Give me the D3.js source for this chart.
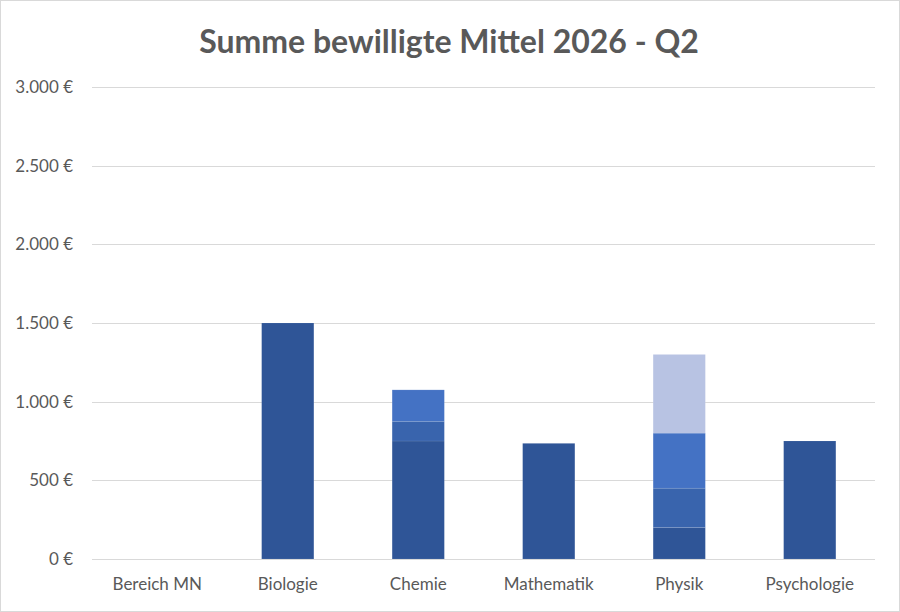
<!DOCTYPE html>
<html>
<head>
<meta charset="utf-8">
<script src="https://cdn.jsdelivr.net/npm/d3@7"></script>
<style>
  body { margin: 0; background: #fff; }
  svg { display: block; font-family: Lato, "Open Sans", sans-serif; }
</style>
</head>
<body>
<script>
// ================================ data
var categories = ["Bereich MN", "Biologie", "Chemie", "Mathematik", "Physik", "Psychologie"];
var seriesNames = ["Teil 1", "Teil 2", "Teil 3", "Teil 4"];
var teil1 = [0, 1500, 750, 735, 200, 750];
var teil2 = [0, 0, 125, 0, 250, 0];
var teil3 = [0, 0, 200, 0, 350, 0];
var teil4 = [0, 0, 0, 0, 500, 0];
var yTicks = [0, 500, 1000, 1500, 2000, 2500, 3000];
var colors = ["#2F5597", "#3964AD", "#4472C4", "#B8C3E3"];

// ================================ dimensions
var svgWidth = 900;
var svgHeight = 612;

var chartMargin = {
  top: 87,
  right: 25,
  bottom: 53,
  left: 92
};

var chartWidth = svgWidth - chartMargin.left - chartMargin.right;
var chartHeight = svgHeight - chartMargin.top - chartMargin.bottom;

// build rows for d3.stack
var rows = categories.map(function (c, i) {
  return { city: c, "Teil 1": teil1[i], "Teil 2": teil2[i], "Teil 3": teil3[i], "Teil 4": teil4[i] };
});
var stacked = d3.stack().keys(seriesNames)(rows);

var svg = d3.select("body")
  .append("svg")
  .attr("width", svgWidth)
  .attr("height", svgHeight);

// chart border
svg.append("rect")
  .attr("x", 0.5).attr("y", 0.5)
  .attr("width", svgWidth - 1).attr("height", svgHeight - 1)
  .attr("fill", "#fff")
  .attr("stroke", "#d9d9d9");

// title
svg.append("text")
  .attr("x", 449)
  .attr("y", 53)
  .attr("text-anchor", "middle")
  .attr("fill", "#595959")
  .style("font-size", "32px")
  .style("font-weight", "bold")
  .text("Summe bewilligte Mittel 2026 - Q2");

var chartGroup = svg.append("g")
  .attr("transform", `translate(${chartMargin.left}, ${chartMargin.top})`);

var xBandScale = d3.scaleBand()
  .domain(categories)
  .range([0, chartWidth])
  .paddingInner(0.6)
  .paddingOuter(0.3);

var yLinearScale = d3.scaleLinear()
  .domain([0, 3000])
  .range([chartHeight, 0]);

var euro = function (d) {
  return d3.format(",")(d).replace(/,/g, ".") + " €";
};

// gridlines
chartGroup.append("g")
  .selectAll("line")
  .data(yTicks)
  .enter()
  .append("line")
  .attr("x1", 0)
  .attr("x2", chartWidth)
  .attr("y1", d => Math.round(yLinearScale(d)) + 0.5)
  .attr("y2", d => Math.round(yLinearScale(d)) + 0.5)
  .attr("stroke", "#d9d9d9")
  .attr("stroke-width", 1);

// left axis labels
var leftAxis = d3.axisLeft(yLinearScale).tickValues(yTicks).tickFormat(euro).tickSize(0).tickPadding(19);
var yAxisG = chartGroup.append("g").call(leftAxis);
yAxisG.select(".domain").remove();
yAxisG.selectAll("text")
  .attr("fill", "#595959")
  .style("font-size", "17px")
  .style("font-family", "Lato, sans-serif");

// bars
chartGroup.selectAll(".serie")
  .data(stacked)
  .enter()
  .append("g")
  .attr("class", "serie")
  .attr("fill", (d, i) => colors[i])
  .selectAll("rect")
  .data(d => d)
  .enter()
  .append("rect")
  .filter(d => d[1] - d[0] > 0)
  .attr("x", d => xBandScale(d.data.city))
  .attr("y", d => yLinearScale(d[1]))
  .attr("width", xBandScale.bandwidth())
  .attr("height", d => yLinearScale(d[0]) - yLinearScale(d[1]))
  .attr("stroke", "#ffffff")
  .attr("stroke-opacity", 0.12)
  .attr("stroke-width", 0.75);

// bottom axis
var bottomAxis = d3.axisBottom(xBandScale).tickSize(0).tickPadding(19);
var xAxisG = chartGroup.append("g")
  .attr("transform", `translate(0, ${chartHeight})`)
  .call(bottomAxis);
xAxisG.select(".domain").remove();
xAxisG.selectAll("text")
  .attr("fill", "#595959")
  .style("font-size", "17px")
  .style("font-family", "Lato, sans-serif");
</script>
</body>
</html>
